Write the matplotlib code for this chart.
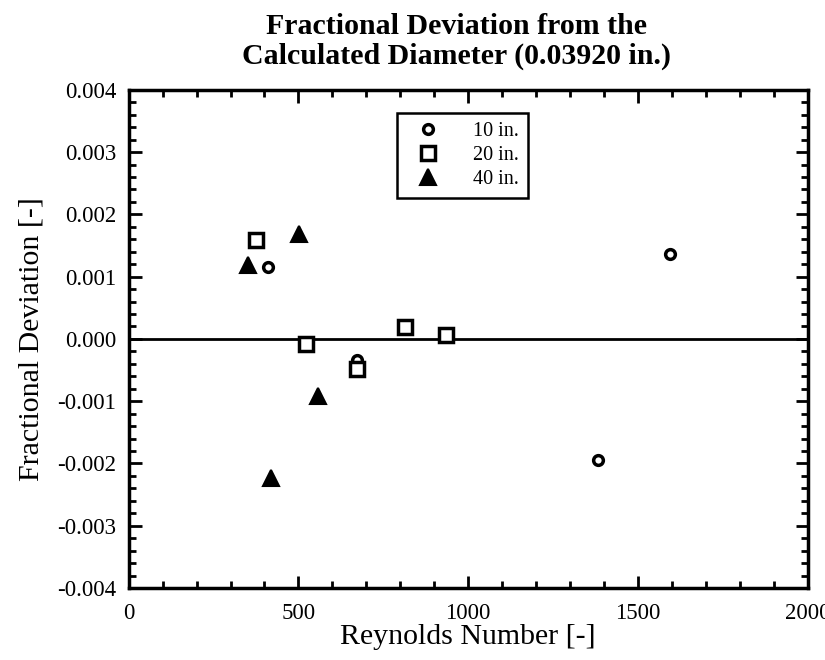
import matplotlib
matplotlib.use("Agg")
import matplotlib.pyplot as plt
from matplotlib.ticker import MultipleLocator, FormatStrFormatter

# Data
re_10 = [409, 672, 1381, 1594]
dev_10 = [0.00116, -0.00034, -0.00194, 0.00137]

re_20 = [374, 521, 672, 813, 934]
dev_20 = [0.00158, -0.00008, -0.00048, 0.00019, 0.00006]

re_40 = [351, 418, 501, 557]
dev_40 = [0.00118, -0.00223, 0.00169, -0.00092]

labels = ["10 in.", "20 in.", "40 in."]

plt.rcParams['font.family'] = ['Liberation Serif', 'DejaVu Serif']

fig = plt.figure(figsize=(8.25, 6.6), dpi=100)
ax = fig.add_axes([0.156, 0.109, 0.823, 0.755])

# zero reference line
ax.axhline(0, color='black', lw=2, zorder=1)

ax.plot(re_10, dev_10, ls='none', marker='o', ms=7, mfc='white', mec='black', mew=2.5, label=labels[0], zorder=3)
ax.plot(re_20, dev_20, ls='none', marker='s', ms=10, mfc='white', mec='black', mew=2.5, label=labels[1], zorder=3)
ax.plot(re_40, dev_40, ls='none', marker='^', ms=11, mfc='black', mec='black', mew=1.5, label=labels[2], zorder=3)

ax.set_xlim(0, 2000)
ax.set_ylim(-0.004, 0.004)
ax.xaxis.set_major_locator(MultipleLocator(500))
ax.xaxis.set_minor_locator(MultipleLocator(100))
ax.yaxis.set_major_locator(MultipleLocator(0.001))
ax.yaxis.set_minor_locator(MultipleLocator(0.0002))
ax.yaxis.set_major_formatter(FormatStrFormatter('%.3f'))

ax.tick_params(which='both', direction='in', top=True, right=True, width=2, labelsize=16.5)
ax.tick_params(axis='y', pad=9)
ax.tick_params(axis='x', pad=11)
ax.tick_params(which='major', length=9)
ax.tick_params(which='minor', length=5)
for sp in ax.spines.values():
    sp.set_linewidth(2.5)

ax.set_xlabel("Reynolds Number [-]", fontsize=21.5, labelpad=0)
ax.set_ylabel("Fractional Deviation [-]", fontsize=21.5, labelpad=9)

fig.text(0.553, 0.98, "Fractional Deviation from the\nCalculated Diameter (0.03920 in.)",
         ha='center', va='top', fontsize=21.5, fontweight='bold', linespacing=1.1)

leg = ax.legend(loc='upper left', bbox_to_anchor=(0.395, 0.954), fontsize=14.5,
                frameon=True, fancybox=False, framealpha=1, borderpad=0.45,
                handletextpad=1.15, labelspacing=0.25, handlelength=2.2,
                borderaxespad=0)
leg.get_frame().set_edgecolor('black')
leg.get_frame().set_linewidth(1.8)

fig.savefig("out.png", dpi=100)
